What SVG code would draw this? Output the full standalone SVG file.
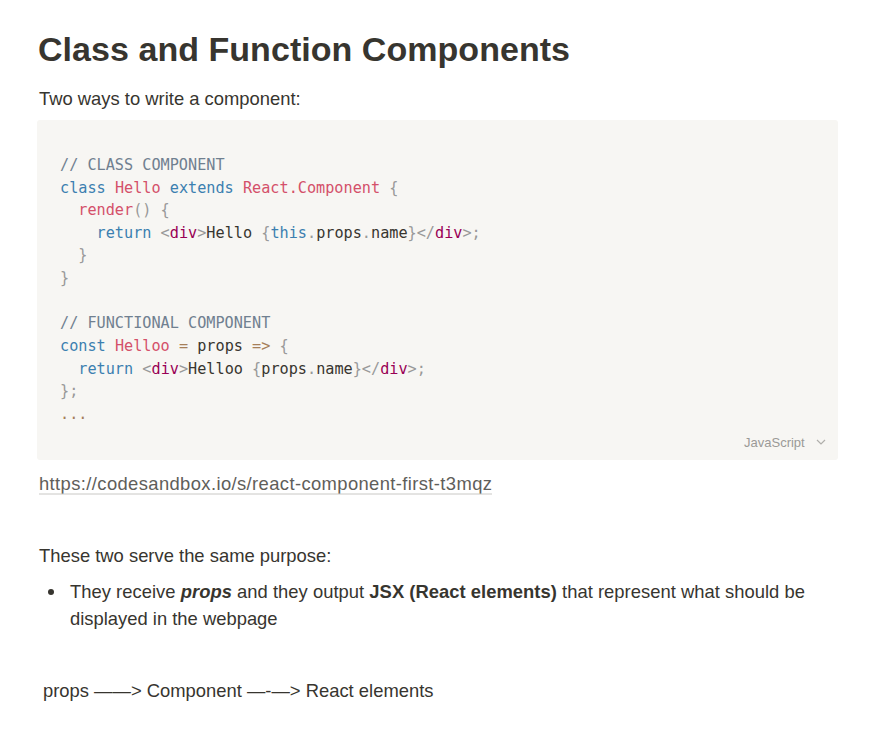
<svg xmlns="http://www.w3.org/2000/svg" width="880" height="752" viewBox="0 0 880 752">
<style>
.b{font-family:"Liberation Sans",Arial,sans-serif;font-size:18.4px;fill:#37352f}
.c{font-family:"DejaVu Sans Mono",monospace;font-size:15.2px;fill:#37352f;white-space:pre}
.k{fill:#3c7fb0}.r{fill:#d4506a}.g{fill:#708090}.p{fill:#999}.t{fill:#990055}.o{fill:#a67f59}
</style>
<rect width="880" height="752" fill="#fff"/>
<g id="title"><text x="38" y="61" font-family="Liberation Sans,Arial,sans-serif" font-size="34" font-weight="bold" fill="#37352f" textLength="532">Class and Function Components</text></g>
<g id="intro"><text class="b" x="39" y="105">Two ways to write a component:</text></g>
<g id="code">
<rect x="37" y="120" width="801" height="340" rx="3" fill="#f7f6f3"/>
<text class="c" xml:space="preserve"><tspan x="60" y="170" class="g">// CLASS COMPONENT</tspan><tspan x="60" y="193"><tspan class="k">class</tspan> <tspan class="r">Hello</tspan> <tspan class="k">extends</tspan> <tspan class="r">React.Component</tspan> <tspan class="p">{</tspan></tspan><tspan x="60" y="215">  <tspan class="r">render</tspan><tspan class="p">() {</tspan></tspan><tspan x="60" y="238">    <tspan class="k">return</tspan> <tspan class="p">&lt;</tspan><tspan class="t">div</tspan><tspan class="p">&gt;</tspan>Hello <tspan class="p">{</tspan><tspan class="k">this</tspan><tspan class="p">.</tspan>props<tspan class="p">.</tspan>name<tspan class="p">}&lt;/</tspan><tspan class="t">div</tspan><tspan class="p">&gt;;</tspan></tspan><tspan x="60" y="260" class="p">  }</tspan><tspan x="60" y="283" class="p">}</tspan><tspan x="60" y="328" class="g">// FUNCTIONAL COMPONENT</tspan><tspan x="60" y="351"><tspan class="k">const</tspan> <tspan class="r">Helloo</tspan> <tspan class="o">=</tspan> props <tspan class="o">=&gt;</tspan> <tspan class="p">{</tspan></tspan><tspan x="60" y="374">  <tspan class="k">return</tspan> <tspan class="p">&lt;</tspan><tspan class="t">div</tspan><tspan class="p">&gt;</tspan>Helloo <tspan class="p">{</tspan>props<tspan class="p">.</tspan>name<tspan class="p">}&lt;/</tspan><tspan class="t">div</tspan><tspan class="p">&gt;;</tspan></tspan><tspan x="60" y="396" class="p">};</tspan><tspan x="60" y="419" class="o">...</tspan></text>
<text x="744" y="447" font-family="Liberation Sans,Arial,sans-serif" font-size="13" fill="#9b9a97">JavaScript</text>
<path d="M817 440l4 4 4-4" fill="none" stroke="#b0afab" stroke-width="1.2"/>
</g>
<g id="link"><text class="b" x="39" y="490" style="fill:#5f5e5a" textLength="453">https://codesandbox.io/s/react-component-first-t3mqz</text>
<line x1="39" y1="494" x2="492" y2="494" stroke="#c9c8c5" stroke-width="1"/></g>
<g id="purpose"><text class="b" x="39" y="562">These two serve the same purpose:</text>
<circle cx="51" cy="592" r="3" fill="#37352f"/>
<text class="b" x="70" y="598" textLength="735">They receive <tspan font-weight="bold" font-style="italic">props</tspan> and they output <tspan font-weight="bold">JSX (React elements)</tspan> that represent what should be</text>
<text class="b" x="70" y="625">displayed in the webpage</text></g>
<g id="flow"><text class="b" x="43" y="697">props ——&gt; Component —-—&gt; React elements</text></g>
</svg>
